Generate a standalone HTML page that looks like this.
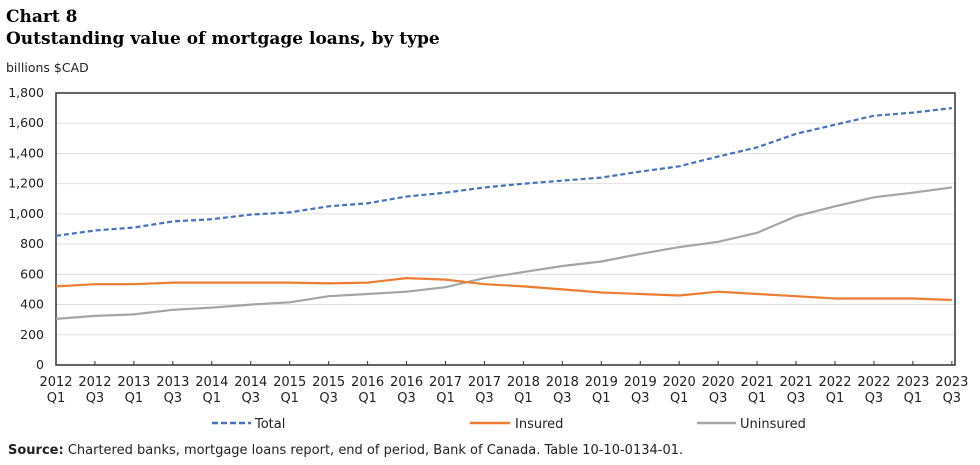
<!DOCTYPE html>
<html><head><meta charset="utf-8"><style>
body{margin:0;background:#fff;width:980px;height:461px;overflow:hidden;font-family:"DejaVu Sans",Verdana,sans-serif;}
</style></head><body>
<svg id="s" width="980" height="461" xmlns="http://www.w3.org/2000/svg" font-family="DejaVu Sans, Verdana, sans-serif">
<text x="6" y="22" font-family="DejaVu Serif, serif" font-weight="bold" font-size="17" fill="#000">Chart 8</text>
<text x="6" y="44" font-family="DejaVu Serif, serif" font-weight="bold" font-size="17" fill="#000">Outstanding value of mortgage loans, by type</text>
<text x="6" y="72" font-size="12.5" fill="#222">billions $CAD</text>
<g id="grid"></g>
<g id="series"></g>
<g font-size="13" fill="#222">
<line x1="212" y1="423" x2="251" y2="423" stroke="#4472c4" stroke-width="2.5" stroke-dasharray="6,3"/>
<text x="255" y="428">Total</text>
<line x1="470" y1="423" x2="510" y2="423" stroke="#ed7d31" stroke-width="2.5"/>
<text x="515" y="428">Insured</text>
<line x1="697" y1="423" x2="736" y2="423" stroke="#a5a5a5" stroke-width="2.5"/>
<text x="740" y="428">Uninsured</text>
<text x="8" y="454" font-size="13"><tspan font-weight="bold">Source:</tspan> Chartered banks, mortgage loans report, end of period, Bank of Canada. Table 10-10-0134-01.</text>
</g>
</svg>
<script>
var NS="http://www.w3.org/2000/svg",g=document.getElementById('grid'),se=document.getElementById('series');
function el(p,t,a,txt){var e=document.createElementNS(NS,t);for(var k in a)e.setAttribute(k,a[k]);if(txt)e.textContent=txt;p.appendChild(e);return e;}
var L=56,R=955,B=365,T=93,step=38.95;
function Y(v){return B-v*(B-T)/1800;}
for(var v=0;v<=1800;v+=200){var y=Y(v);if(v>0)el(g,'line',{x1:L,x2:R,y1:y,y2:y,stroke:'#e0e0e0','stroke-width':1});
el(g,'text',{x:44,y:y+4,'text-anchor':'end','font-size':12.5,fill:'#222'},v.toLocaleString('en-US'));}
el(g,'rect',{x:L,y:T,width:R-L,height:B-T,fill:'none',stroke:'#333','stroke-width':1.5});
for(var i=0;i<24;i++){var x=L+i*step;el(g,'line',{x1:x,x2:x,y1:B,y2:B-4,stroke:'#333'});
var yr=2012+Math.floor(i/2);el(g,'text',{x:x,y:386,'text-anchor':'middle','font-size':13,fill:'#222'},yr);
el(g,'text',{x:x,y:402,'text-anchor':'middle','font-size':13,fill:'#222'},i%2?'Q3':'Q1');}
var tot=[855,890,910,950,965,995,1010,1050,1070,1115,1140,1175,1200,1220,1240,1280,1315,1380,1440,1530,1590,1650,1670,1700];
var ins=[520,535,535,545,545,545,545,540,545,575,565,535,520,500,480,470,460,485,470,455,440,440,440,430];
var uni=[305,325,335,365,380,400,415,455,470,485,515,575,615,655,685,735,780,815,875,985,1050,1110,1140,1175];
function pts(a){return a.map(function(v,i){return (L+i*step).toFixed(1)+','+Y(v).toFixed(1)}).join(' ');}
el(se,'polyline',{points:pts(uni),fill:'none',stroke:'#a5a5a5','stroke-width':2.2});
el(se,'polyline',{points:pts(ins),fill:'none',stroke:'#ed7d31','stroke-width':2.2});
el(se,'polyline',{points:pts(tot),fill:'none',stroke:'#4472c4','stroke-width':2.2,'stroke-dasharray':'5,3'});
</script>
</body></html>
